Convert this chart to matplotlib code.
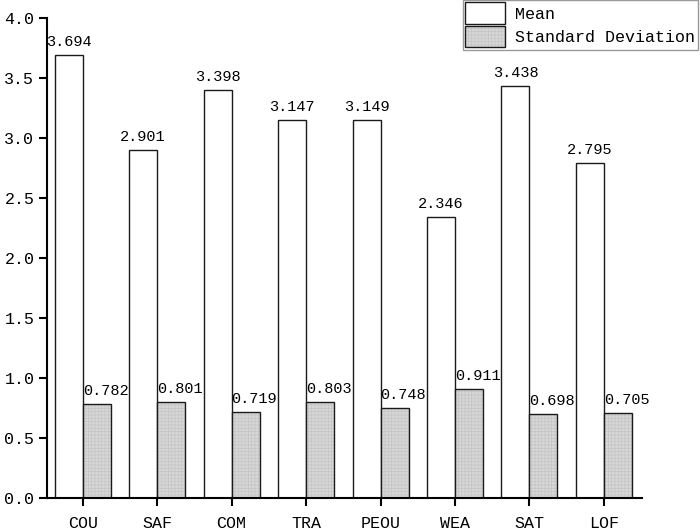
import numpy as np
import matplotlib
matplotlib.use('Agg')
from matplotlib import pyplot as plt
from matplotlib.legend_handler import HandlerTuple

categories = ['COU', 'SAF', 'COM', 'TRA', 'PEOU', 'WEA', 'SAT', 'LOF']
mean_vals = [3.694, 2.901, 3.398, 3.147, 3.149, 2.346, 3.438, 2.795]
std_vals = [0.782, 0.801, 0.719, 0.803, 0.748, 0.911, 0.698, 0.705]
series_names = ['Mean', 'Standard Deviation']

plt.rcParams['font.family'] = ['Liberation Mono', 'DejaVu Sans Mono']
plt.rcParams['hatch.linewidth'] = 0.4

fig = plt.figure(figsize=(7, 5.32), dpi=100)
ax = fig.add_axes([0.067, 0.064, 0.85, 0.902])

x = np.arange(len(categories))
w = 0.376

b1 = ax.bar(x, mean_vals, width=-w, align='edge', color='white',
            edgecolor='#1a1a1a', linewidth=1)
# hatched fill (light grid) then a black outline on top
b2 = ax.bar(x, std_vals, width=w, align='edge', color='#d6d6d6',
            edgecolor='#c2c2c2', linewidth=0, hatch='+++++')
b2o = ax.bar(x, std_vals, width=w, align='edge', facecolor='none',
             edgecolor='#1a1a1a', linewidth=1)

for xi, v in zip(x, mean_vals):
    ax.text(xi - w / 2, v + 0.05, f'{v:.3f}', ha='center', va='bottom', fontsize=11)
for xi, v in zip(x, std_vals):
    ax.text(xi, v + 0.05, f'{v:.3f}', ha='left', va='bottom', fontsize=11)

ax.set_xlim(-0.48, 7.51)
ax.set_ylim(0, 4.0)
ax.set_yticks(np.arange(0, 4.01, 0.5))
ax.set_yticklabels([f'{t:.1f}' for t in np.arange(0, 4.01, 0.5)])
ax.set_xticks(x)
ax.set_xticklabels(categories)
ax.tick_params(axis='both', direction='out', length=6, width=1.5, labelsize=12)
ax.tick_params(axis='x', pad=7)
ax.tick_params(axis='y', pad=3)
ax.spines['top'].set_visible(False)
ax.spines['right'].set_visible(False)
ax.spines['left'].set_linewidth(1.5)
ax.spines['bottom'].set_linewidth(1.5)

leg = fig.legend([b1, (b2, b2o)], series_names,
                 handler_map={tuple: HandlerTuple(ndivide=1, pad=0)},
                 loc='upper right', bbox_to_anchor=(0.997, 1.0), fontsize=12,
                 frameon=True, fancybox=False, edgecolor='#808080',
                 handlelength=2.4, handleheight=1.6, borderpad=0.15,
                 labelspacing=0.1, handletextpad=0.6, borderaxespad=0)
leg.get_frame().set_linewidth(1)

fig.savefig('out.png', dpi=100)
